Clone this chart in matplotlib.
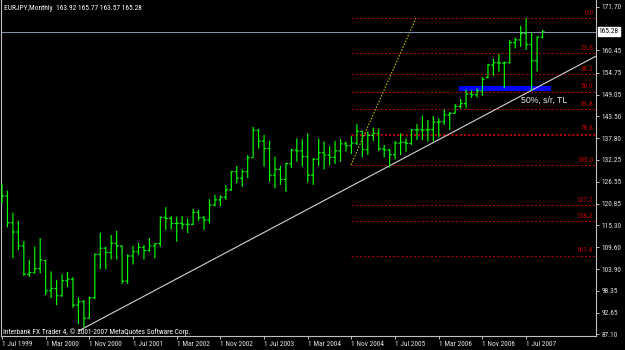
import matplotlib
matplotlib.use('Agg')
import matplotlib.pyplot as plt
from matplotlib import font_manager
from matplotlib.collections import LineCollection
from matplotlib.patches import Rectangle

# pick a narrow face if one is installed, MT4 uses a small condensed font
installed = {f.name for f in font_manager.fontManager.ttflist}
narrow = next((n for n in ['Liberation Sans Narrow', 'DejaVu Sans Condensed',
                           'Roboto Condensed'] if n in installed), None)
if narrow:
    plt.rcParams['font.family'] = [narrow, 'DejaVu Sans']
    small = 5.3
else:
    plt.rcParams['font.family'] = ['DejaVu Sans']
    small = 4.3

# EURJPY monthly bars, Jul 1999 .. Oct 2007 (bar index 0 = Jul 1999)
opens = [121.4, 122.8, 115.9, 113.5, 109.9, 102.6, 103.0, 104.0, 106.1, 98.3,
         98.9, 97.0, 100.9, 101.3, 94.6, 95.5, 91.2, 96.5, 107.7, 109.3,
         108.2, 110.6, 109.9, 100.8, 107.3, 108.4, 109.5, 108.7, 109.9, 110.5,
         117.3, 117.0, 115.7, 115.7, 115.5, 115.5, 118.6, 117.2, 116.6, 120.5,
         121.8, 122.5, 124.4, 129.1, 127.4, 129.1, 132.7, 139.8, 137.0, 135.1,
         128.2, 129.7, 127.1, 131.2, 134.7, 134.5, 133.0, 128.2, 132.3, 134.0,
         133.4, 132.8, 134.5, 136.3, 135.8, 136.5, 139.5, 134.8, 138.5, 139.0,
         135.0, 134.7, 133.5, 136.5, 136.7, 136.4, 139.9, 139.9, 139.9, 140.0,
         141.9, 142.0, 143.8, 144.2, 146.0, 146.7, 149.2, 149.0, 150.0, 153.5,
         156.7, 157.3, 157.2, 157.3, 162.5, 163.2, 164.8, 162.0, 157.8, 163.92]
highs = [125.9, 124.2, 118.5, 116.4, 111.2, 106.3, 109.7, 111.9, 106.3, 103.3,
         101.1, 102.6, 103.2, 101.8, 96.6, 95.9, 96.8, 107.9, 113.3, 109.7,
         112.7, 113.8, 110.0, 107.7, 109.9, 110.7, 110.1, 111.9, 110.6, 117.5,
         119.9, 117.6, 117.5, 117.6, 117.0, 119.5, 119.2, 117.6, 122.0, 123.1,
         123.0, 125.6, 129.3, 130.6, 129.7, 133.4, 140.7, 140.1, 138.6, 137.1,
         133.0, 130.6, 131.4, 135.0, 137.7, 137.5, 139.0, 132.6, 137.7, 136.9,
         135.7, 137.1, 137.5, 136.9, 138.3, 141.4, 139.7, 139.5, 140.5, 140.3,
         136.0, 135.0, 137.0, 139.0, 137.7, 140.1, 141.4, 143.6, 142.5, 143.5,
         142.9, 145.2, 144.6, 146.6, 147.9, 150.4, 150.2, 150.7, 153.5, 157.0,
         158.4, 159.5, 157.6, 163.2, 163.8, 166.8, 168.8, 165.1, 164.1, 165.77]
lows = [120.9, 114.7, 106.7, 108.8, 102.1, 101.9, 102.8, 102.8, 97.2, 96.4,
        94.6, 96.8, 99.2, 93.9, 89.7, 88.9, 91.2, 96.1, 103.9, 103.9,
        106.4, 106.4, 100.1, 100.1, 105.1, 107.6, 106.4, 108.4, 106.7, 109.7,
        114.0, 114.2, 111.0, 114.2, 113.2, 115.3, 116.4, 114.0, 115.7, 120.1,
        120.2, 121.8, 124.2, 126.1, 125.2, 127.4, 132.7, 135.1, 130.4, 126.5,
        124.8, 125.7, 123.9, 130.1, 131.7, 130.4, 126.3, 125.7, 130.6, 129.7,
        130.8, 131.1, 131.7, 134.3, 133.7, 136.0, 132.8, 133.4, 137.0, 134.5,
        132.8, 130.2, 132.3, 133.4, 134.3, 136.0, 137.3, 137.3, 136.9, 136.9,
        138.0, 141.2, 139.9, 144.2, 145.4, 145.5, 148.2, 148.3, 148.7, 153.2,
        153.9, 155.0, 150.7, 157.1, 161.0, 161.4, 160.6, 150.1, 155.0, 163.57]
closes = [122.8, 115.9, 113.5, 109.9, 102.6, 103.0, 104.0, 106.3, 98.3, 98.9,
          97.0, 100.9, 101.3, 94.6, 95.5, 91.2, 96.5, 107.7, 109.3, 108.2,
          110.6, 109.9, 100.8, 107.3, 108.4, 109.5, 108.7, 109.9, 110.5, 117.3,
          117.0, 115.7, 115.7, 115.5, 115.5, 118.6, 117.2, 116.6, 120.5, 121.8,
          122.5, 124.4, 129.1, 127.4, 129.1, 132.7, 139.8, 137.0, 135.1, 128.2,
          129.7, 127.1, 131.2, 134.7, 134.5, 133.0, 128.2, 132.3, 134.0, 133.4,
          132.8, 134.5, 136.3, 135.8, 136.5, 139.5, 134.8, 138.5, 139.0, 135.0,
          134.7, 133.5, 136.5, 136.7, 136.4, 139.9, 139.9, 139.9, 140.0, 141.9,
          142.0, 143.8, 144.2, 146.0, 146.7, 149.2, 149.0, 150.0, 153.0, 156.7,
          157.3, 157.2, 157.3, 162.5, 163.2, 164.8, 162.0, 157.8, 163.9, 165.28]

date_ticks = [0, 8, 16, 24, 32, 40, 48, 56, 64, 72, 80, 88, 96]
date_labels = ['1 Jul 1999', '1 Mar 2000', '1 Nov 2000', '1 Jul 2001', '1 Mar 2002',
               '1 Nov 2002', '1 Jul 2003', '1 Mar 2004', '1 Nov 2004', '1 Jul 2005',
               '1 Mar 2006', '1 Nov 2006', '1 Jul 2007']
price_ticks = [171.70, 160.45, 154.75, 149.05, 143.50, 137.80, 132.25, 126.55,
               120.85, 115.30, 109.60, 103.90, 98.35, 92.65, 87.10]
last_price = 165.28

# fibonacci retracement (anchors: bar index, price)
fib_low_bar, fib_low = 63.9, 130.83
fib_high_bar, fib_high = 75.8, 168.78
fib_levels = [0.0, 23.6, 38.2, 50.0, 61.8, 78.6, 100.0, 127.2, 138.2, 161.8]
extra_level = 138.6

# trend line through the 2000 low
tl_bar1, tl_price1 = 14.0, 87.9
tl_bar2, tl_price2 = 80.0, 137.4

# support zone
zone_start, zone_end = 83.7, 100.5
zone_low, zone_high = 150.0, 151.3

W, H = 625, 350
fig = plt.figure(figsize=(W / 100, H / 100), dpi=100, facecolor='black')
ax = fig.add_axes([1 / W, 14 / H, 595 / W, 336 / H])
ax.set_facecolor('black')
xmin = -1 / 5.46
xmax = xmin + 595 / 5.46
ax.set_xlim(xmin, xmax)
ax.set_ylim(171.7 - 329 / 3.866, 171.7 + 7 / 3.866)

for side in ['left', 'right', 'bottom']:
    ax.spines[side].set_color('#c0c0c0')
    ax.spines[side].set_linewidth(0.8)
ax.spines['top'].set_visible(False)

# fib levels
span = fib_high - fib_low
for lv in fib_levels:
    p = fib_high - span * lv / 100
    ax.plot([fib_low_bar, xmax], [p, p], color='#b00000', lw=0.75,
            ls=(0, (2, 2)), zorder=1)
    ax.text(xmax - 0.5, p + 0.35, f'{lv:.1f}', color='#c00000', fontsize=small,
            ha='right', va='bottom', zorder=2)
ax.plot([fib_low_bar, xmax], [extra_level, extra_level], color='#b00000', lw=0.75,
        ls=(0, (2, 2)), zorder=1)
ax.plot([fib_low_bar, fib_high_bar], [fib_low, fib_high], color='#c8c800', lw=0.75,
        ls=(0, (1.5, 1.5)), zorder=1)

# last price line
ax.axhline(last_price, color='#8090a8', lw=0.75, zorder=1)

# support zone
ax.add_patch(Rectangle((zone_start, zone_low), zone_end - zone_start,
                       zone_high - zone_low, color='#0000ff', lw=0, zorder=2))

# trend line (ray to the right)
slope = (tl_price2 - tl_price1) / (tl_bar2 - tl_bar1)
ax.plot([tl_bar1, xmax], [tl_price1, tl_price1 + slope * (xmax - tl_bar1)],
        color='#d8d0d8', lw=0.8, zorder=3)

# OHLC bars
segs = []
w = 0.38
for i, (o, h, l, c) in enumerate(zip(opens, highs, lows, closes)):
    segs.append([(i, l), (i, h)])
    segs.append([(i - w, o), (i, o)])
    segs.append([(i, c), (i + w, c)])
ax.add_collection(LineCollection(segs, colors='#00ff00', linewidths=0.85,
                                 snap=False, zorder=4))

ax.text(95, 147.6, '50%, s/r, TL', color='#e8e8e8', fontsize=6.3,
        family=['Liberation Sans', 'DejaVu Sans'], ha='left', va='center', zorder=5)

# axes ticks
ax.yaxis.tick_right()
ax.set_yticks(price_ticks, [f'{p:.2f}' for p in price_ticks])
ax.tick_params(axis='y', colors='#c0c0c0', labelcolor='#e0e0e0', labelsize=small,
               length=2.2, width=0.7, pad=1.5)
ax.set_xticks(date_ticks, date_labels)
ax.tick_params(axis='x', colors='#c0c0c0', labelcolor='#e0e0e0', labelsize=small,
               length=2.2, width=0.7, pad=1.2)
for lbl in ax.get_xticklabels():
    lbl.set_ha('left')

ax.annotate(f'{last_price:.2f}', xy=(1, last_price), xycoords=('axes fraction', 'data'),
            xytext=(2.0, 0), textcoords='offset points', fontsize=small, color='black',
            va='center', ha='left',
            bbox=dict(boxstyle='square,pad=0.15', fc='white', ec='white'))

fig.text(4 / W, 1 - 8 / H, 'EURJPY,Monthly  163.92 165.77 163.57 165.28',
         color='white', fontsize=small, va='center', ha='left')
fig.text(3 / W, 1 - 332 / H, 'Interbank FX Trader 4, \u00a9 2001-2007 MetaQuotes Software Corp.',
         color='white', fontsize=small, va='center', ha='left')

fig.savefig('out.png', dpi=100, facecolor='black')
